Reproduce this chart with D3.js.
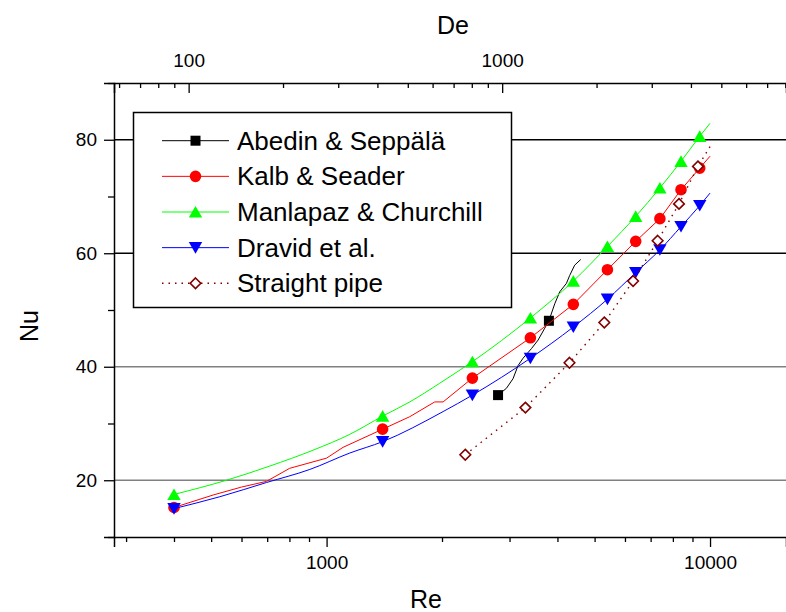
<!DOCTYPE html>
<html>
<head>
<meta charset="utf-8">
<script src="https://cdn.jsdelivr.net/npm/d3@7"></script>
<style>
  body { margin: 0; background: #fff; }
  svg text { font-family: "Liberation Sans", Arial, sans-serif; fill: #000; }
</style>
</head>
<body>
<svg id="chart" width="786" height="612"></svg>
<script>
// marker points (Re)
var reMarks = [400, 1400, 2400, 3400, 4400, 5400, 6400, 7400, 8400, 9400];
var nuKalb = [15.2, 29.0, 38.0, 45.1, 51.0, 57.1, 62.1, 66.1, 71.2, 75.0];
var nuManlapaz = [17.5, 31.3, 40.9, 48.6, 55.1, 61.2, 66.5, 71.5, 76.2, 80.6];
var nuDravid = [15.0, 26.8, 35.0, 41.5, 47.0, 51.9, 56.6, 60.6, 64.7, 68.4];

var reAbedin = [2800, 3800];
var nuAbedin = [35.0, 48.1];

var reStraight = [2300, 3300, 4300, 5300, 6300, 7300, 8300, 9300];
var nuStraight = [24.5, 32.8, 40.7, 47.8, 55.1, 62.2, 68.7, 75.3];

// the curves behind the markers
var reKalbLine = [400, 506, 600, 697, 801, 1000, 1104, 1400, 1648, 1914, 2013, 2400, 3400, 4400, 5400, 6400, 7400, 8400, 9400, 10000];
var nuKalbLine = [15.2, 17.4, 18.8, 19.8, 22.1, 23.9, 25.8, 29.0, 31.2, 33.8, 33.8, 38.0, 45.1, 51.0, 57.1, 62.1, 66.1, 71.2, 75.0, 77.1];
var reManlapazLine = [400, 548, 711, 922, 1150, 1400, 1648, 1973, 2400, 3400, 4400, 5400, 6400, 7400, 8400, 9400, 10000];
var nuManlapazLine = [17.5, 20.0, 22.5, 25.3, 28.1, 31.3, 33.8, 37.1, 40.9, 48.6, 55.1, 61.2, 66.5, 71.5, 76.2, 80.6, 82.9];
var reDravidLine = [400, 527, 697, 904, 1150, 1400, 2013, 2400, 3400, 4400, 5400, 6400, 7400, 8400, 9400, 10000];
var nuDravidLine = [15.0, 17.1, 19.6, 21.9, 24.8, 26.8, 32.1, 35.0, 41.5, 47.0, 51.9, 56.6, 60.6, 64.7, 68.4, 70.6];
var reAbedinLine = [2800, 2944, 3064, 3157, 3253, 3422, 3561, 3707, 3800, 3936, 4055, 4222, 4306, 4436, 4600];
var nuAbedinLine = [35.0, 36.2, 37.9, 40.2, 41.5, 43.2, 44.7, 46.8, 48.1, 51.1, 53.2, 54.7, 56.1, 57.9, 58.9];
var reStraightLine = [2300, 3300, 4300, 5300, 6300, 7300, 8300, 9300, 10000];
var nuStraightLine = [24.5, 32.8, 40.7, 47.8, 55.1, 62.2, 68.7, 75.3, 78.8];

// axes
var reDomain = [279, 15780];
var deDomain = [57.8, 8040];
var nuDomain = [10, 90];
var reTicks = [300, 400, 500, 600, 700, 800, 900, 1000, 2000, 3000, 4000, 5000, 6000, 7000, 8000, 9000, 10000];
var reLabels = [1000, 10000];
var deTicks = [60, 70, 80, 90, 100, 200, 300, 400, 500, 600, 700, 800, 900, 1000, 2000, 3000, 4000, 5000, 6000, 7000, 8000];
var deLabels = [100, 1000];
var nuTicks = [10, 20, 30, 40, 50, 60, 70, 80, 90];
var nuLabels = [20, 40, 60, 80];
var gridDark = [60, 80];
var gridGray = [20, 40];

var series = [
  {name: "Abedin & Seppälä", color: "#000000", shape: "square", re: reAbedin, nu: nuAbedin, lre: reAbedinLine, lnu: nuAbedinLine, dash: null, curve: d3.curveLinear},
  {name: "Kalb & Seader", color: "#ff0000", shape: "circle", re: reMarks, nu: nuKalb, lre: reKalbLine, lnu: nuKalbLine, dash: null, curve: d3.curveLinear},
  {name: "Manlapaz & Churchill", color: "#00ff00", shape: "up", re: reMarks, nu: nuManlapaz, lre: reManlapazLine, lnu: nuManlapazLine, dash: null, curve: d3.curveMonotoneX},
  {name: "Dravid et al.", color: "#0000ff", shape: "down", re: reMarks, nu: nuDravid, lre: reDravidLine, lnu: nuDravidLine, dash: null, curve: d3.curveMonotoneX},
  {name: "Straight pipe", color: "#800000", shape: "diamond", re: reStraight, nu: nuStraight, lre: reStraightLine, lnu: nuStraightLine, dash: "1.5,5", curve: d3.curveLinear}
];

var svg = d3.select("#chart");

var x = d3.scaleLog().domain(reDomain).range([114, 786]);
var xTop = d3.scaleLog().domain(deDomain).range([114, 786]);
var y = d3.scaleLinear().domain(nuDomain).range([537, 83]);

// grid lines
svg.append("g").selectAll("line").data(gridGray.concat(gridDark)).join("line")
  .attr("x1", 114).attr("x2", 786)
  .attr("y1", d => y(d)).attr("y2", d => y(d))
  .attr("stroke", d => gridDark.indexOf(d) >= 0 ? "#000" : "#808080")
  .attr("stroke-width", 1.5);

function isMajor(list) { return function(d) { return list.indexOf(d) >= 0; }; }

var xAxis = d3.axisBottom(x).tickValues(reTicks).tickSize(10).tickPadding(9)
  .tickFormat(d => reLabels.indexOf(d) >= 0 ? d : "");
var gx = svg.append("g").attr("transform", "translate(0,537)").call(xAxis);
gx.selectAll(".tick line").attr("y2", d => isMajor(reLabels)(d) ? 10 : 5);

var xTopAxis = d3.axisTop(xTop).tickValues(deTicks).tickSize(-10).tickPadding(16)
  .tickFormat(d => deLabels.indexOf(d) >= 0 ? d : "");
var gt = svg.append("g").attr("transform", "translate(0,83)").call(xTopAxis);
gt.selectAll(".tick line").attr("y2", d => isMajor(deLabels)(d) ? 10 : 5);

var yAxis = d3.axisLeft(y).tickValues(nuTicks).tickSize(10).tickPadding(7)
  .tickFormat(d => nuLabels.indexOf(d) >= 0 ? d : "");
var gy = svg.append("g").attr("transform", "translate(114,0)").call(yAxis);
gy.selectAll(".tick line").attr("x2", d => isMajor(nuLabels)(d) ? -10 : -6);

[gx, gt, gy].forEach(function(g) {
  g.select(".domain").attr("stroke-width", 1.5);
  g.selectAll(".tick line").attr("stroke-width", 1.3);
  g.selectAll("text").style("font-family", "'Liberation Sans', Arial, sans-serif").style("font-size", "19px").attr("fill", "#000");
});

// titles
svg.append("text").attr("x", 426).attr("y", 608).attr("text-anchor", "middle").style("font-size", "25px").text("Re");
svg.append("text").attr("x", 453).attr("y", 34).attr("text-anchor", "middle").style("font-size", "25px").text("De");
svg.append("text").attr("transform", "translate(38,326) rotate(-90)").attr("text-anchor", "middle").style("font-size", "25px").text("Nu");

// marker shapes
function markerPath(shape) {
  if (shape === "square") return "M-5,-5H5V5H-5Z";
  if (shape === "circle") return "M-5.8,0A5.8,5.8 0 1,0 5.8,0A5.8,5.8 0 1,0 -5.8,0Z";
  if (shape === "up") return "M0,-6L6.7,5.6L-6.7,5.6Z";
  if (shape === "down") return "M0,6L6.7,-5.6L-6.7,-5.6Z";
  if (shape === "diamond") return "M0,-5.3L5.3,0L0,5.3L-5.3,0Z";
}
function drawMarker(g, s) {
  var p = g.append("path").attr("d", markerPath(s.shape));
  if (s.shape === "diamond") p.attr("fill", "#fff").attr("stroke", s.color).attr("stroke-width", 1.6);
  else p.attr("fill", s.color);
}

var plot = svg.append("g");
series.forEach(function(s) {
  var line = d3.line().x(d => x(d[0])).y(d => y(d[1])).curve(s.curve);
  var pts = s.lre.map((v, i) => [v, s.lnu[i]]);
  plot.append("path").attr("d", line(pts)).attr("fill", "none")
    .attr("stroke", s.color).attr("stroke-width", s.dash ? 1.4 : 1)
    .attr("stroke-dasharray", s.dash);
  s.re.forEach(function(r, i) {
    var g = plot.append("g").attr("transform", "translate(" + x(r) + "," + y(s.nu[i]) + ")");
    drawMarker(g, s);
  });
});

// legend
var legend = svg.append("g");
legend.append("rect").attr("x", 133.5).attr("y", 112.5).attr("width", 378).attr("height", 195)
  .attr("fill", "#fff").attr("stroke", "#000").attr("stroke-width", 1.5);
var rowY = d3.scaleLinear().domain([0, 4]).range([140.7, 283.3]);
series.forEach(function(s, i) {
  var yy = rowY(i);
  legend.append("line").attr("x1", 162).attr("x2", 229).attr("y1", yy).attr("y2", yy)
    .attr("stroke", s.color).attr("stroke-width", s.dash ? 1.4 : 1).attr("stroke-dasharray", s.dash);
  drawMarker(legend.append("g").attr("transform", "translate(195.5," + yy + ")"), s);
  legend.append("text").attr("x", 237).attr("y", yy).attr("dy", "0.35em")
    .style("font-size", "26px").text(s.name);
});
</script>
</body>
</html>
